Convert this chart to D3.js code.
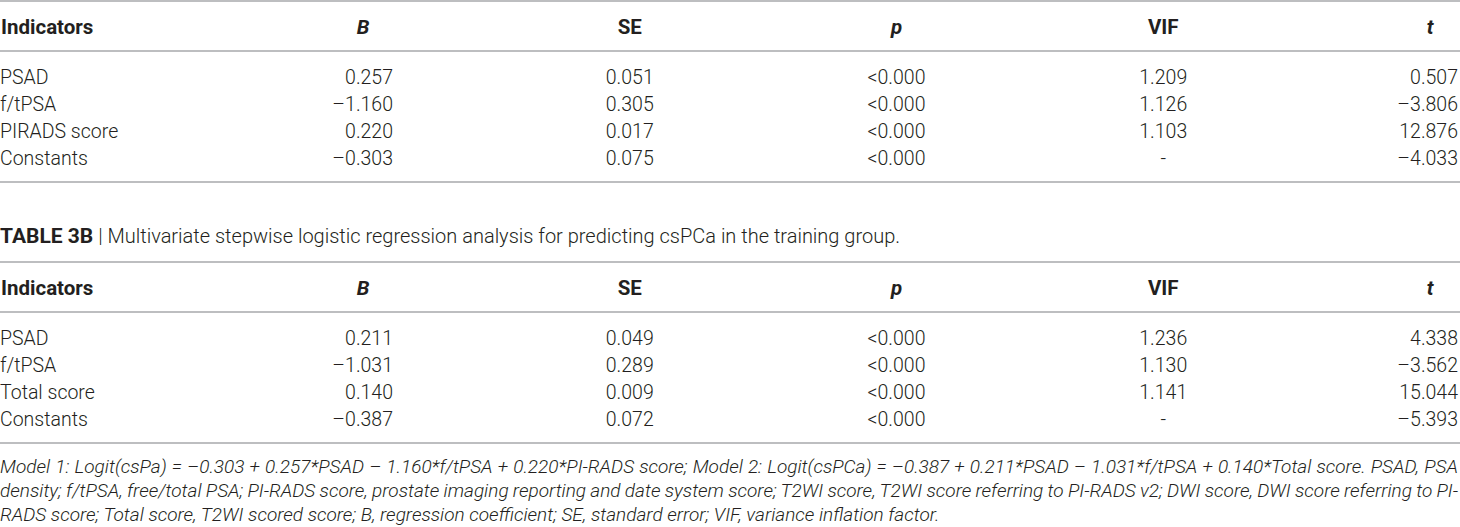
<!DOCTYPE html>
<html>
<head>
<meta charset="utf-8">
<script src="https://cdn.jsdelivr.net/npm/d3@7"></script>
<style>
  body { margin: 0; background: #fff; }
  svg text { fill: #231f20; }
</style>
</head>
<body>
<svg id="table"></svg>
<script>
// table cells
const columns = ["B", "SE", "p", "VIF", "t"];
const italicColumns = ["B", "p", "t"];

const indicatorsA = ["PSAD", "f/tPSA", "PIRADS score", "Constants"];
const coefA = ["0.257", "–1.160", "0.220", "–0.303"];
const seA = ["0.051", "0.305", "0.017", "0.075"];
const pA = ["<0.000", "<0.000", "<0.000", "<0.000"];
const vifA = ["1.209", "1.126", "1.103", "-"];
const tA = ["0.507", "–3.806", "12.876", "–4.033"];

const indicatorsB = ["PSAD", "f/tPSA", "Total score", "Constants"];
const coefB = ["0.211", "–1.031", "0.140", "–0.387"];
const seB = ["0.049", "0.289", "0.009", "0.072"];
const pB = ["<0.000", "<0.000", "<0.000", "<0.000"];
const vifB = ["1.236", "1.130", "1.141", "-"];
const tB = ["4.338", "–3.562", "15.044", "–5.393"];

const captionLabel = "TABLE 3B";
const captionText = "Multivariate stepwise logistic regression analysis for predicting csPCa in the training group.";

const footnoteLines = [
  "Model 1: Logit(csPa) = –0.303 + 0.257*PSAD – 1.160*f/tPSA + 0.220*PI-RADS score; Model 2: Logit(csPCa) = –0.387 + 0.211*PSAD – 1.031*f/tPSA + 0.140*Total score. PSAD, PSA",
  "density; f/tPSA, free/total PSA; PI-RADS score, prostate imaging reporting and date system score; T2WI score, T2WI score referring to PI-RADS v2; DWI score, DWI score referring to PI-",
  "RADS score; Total score, T2WI scored score; B, regression coefficient; SE, standard error; VIF, variance inflation factor."
];

const width = 1460, height = 527;
const font = "Roboto, 'Liberation Sans', Arial, sans-serif";
const ruleColor = "#a7a9ab";

const svg = d3.select("#table")
    .attr("width", width)
    .attr("height", height)
    .style("font-family", font);

// column centres
const x = d3.scalePoint()
    .domain(columns)
    .range([363, 1430]);

// first and last columns are right aligned, others centred
const rightOffset = {B: 30, t: 28};

function drawTable(top, indicators, cols) {
    const g = svg.append("g").attr("transform", `translate(0,${top})`);

    const y = d3.scalePoint()
        .domain(d3.range(indicators.length))
        .range([76, 157]);

    // rules
    [0, 50, 181].forEach(yy => {
        g.append("line")
            .attr("x1", 0).attr("x2", width)
            .attr("y1", yy).attr("y2", yy)
            .attr("stroke", ruleColor)
            .attr("stroke-width", 1.6);
    });

    // header
    g.append("text")
        .attr("x", 1).attr("y", 26).attr("dy", "0.35em")
        .style("font-size", "20.5px").style("font-weight", 700)
        .text("Indicators");

    g.selectAll("text.head")
        .data(columns)
        .join("text")
        .attr("class", "head")
        .attr("x", d => x(d))
        .attr("y", 26).attr("dy", "0.35em")
        .attr("text-anchor", "middle")
        .style("font-size", "20.5px").style("font-weight", 700)
        .style("font-style", d => italicColumns.includes(d) ? "italic" : "normal")
        .text(d => d);

    // row labels
    g.selectAll("text.label")
        .data(indicators)
        .join("text")
        .attr("class", "label")
        .attr("x", 0)
        .attr("y", (d, i) => y(i)).attr("dy", "0.35em")
        .style("font-size", "19.5px").style("font-weight", 300)
        .text(d => d);

    // cells
    columns.forEach((c, ci) => {
        g.selectAll(`text.col${ci}`)
            .data(cols[ci])
            .join("text")
            .attr("class", `col${ci}`)
            .attr("x", x(c) + (rightOffset[c] || 0))
            .attr("y", (d, i) => y(i)).attr("dy", "0.35em")
            .attr("text-anchor", rightOffset[c] ? "end" : "middle")
            .style("font-size", "19.5px").style("font-weight", 300)
            .text(d => d);
    });
}

drawTable(1, indicatorsA, [coefA, seA, pA, vifA, tA]);
drawTable(262, indicatorsB, [coefB, seB, pB, vifB, tB]);

// caption between the two tables
const caption = svg.append("text")
    .attr("x", 0).attr("y", 237).attr("dy", "0.35em");
caption.append("tspan").style("font-weight", 700).style("font-size", "21px").text(captionLabel);
caption.append("tspan").style("font-weight", 300).style("font-size", "20px").text(" | " + captionText);

// footnote, justified like the journal layout
const notes = svg.append("g")
    .style("font-size", "19px")
    .style("font-style", "italic")
    .style("font-weight", 300);

footnoteLines.forEach((line, i) => {
    const t = notes.append("text")
        .attr("x", 0)
        .attr("y", 466 + i * 24)
        .attr("dy", "0.35em")
        .text(line);
    if (i < footnoteLines.length - 1) {
        const natural = t.node().getComputedTextLength();
        const gaps = line.split(" ").length - 1;
        t.attr("word-spacing", (width - 2 - natural) / gaps);
    }
});
</script>
</body>
</html>
